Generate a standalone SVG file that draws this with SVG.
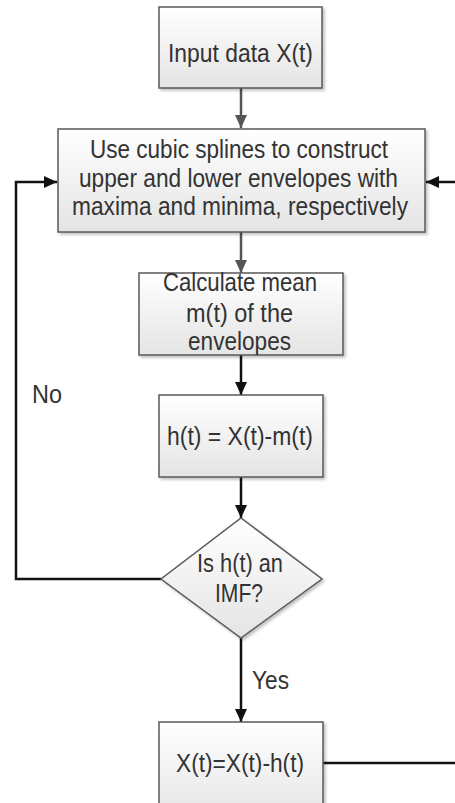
<svg xmlns="http://www.w3.org/2000/svg" width="455" height="803" viewBox="0 0 455 803">
<defs>
<linearGradient id="g" x1="0" y1="0" x2="0" y2="1">
<stop offset="0" stop-color="#ffffff"/>
<stop offset="1" stop-color="#e4e4e4"/>
</linearGradient>
<filter id="sh" x="-10%" y="-10%" width="130%" height="130%">
<feGaussianBlur in="SourceAlpha" stdDeviation="1.5"/>
<feOffset dx="1.5" dy="1.5"/>
<feComponentTransfer><feFuncA type="linear" slope="0.25"/></feComponentTransfer>
<feMerge><feMergeNode/><feMergeNode in="SourceGraphic"/></feMerge>
</filter>
<marker id="ak" markerWidth="13" markerHeight="12" refX="13" refY="6" orient="auto" markerUnits="userSpaceOnUse" viewBox="0 0 13 12">
<path d="M0,0 L13,6 L0,12 Z" fill="#111"/>
</marker>
<marker id="ag" markerWidth="13" markerHeight="12" refX="13" refY="6" orient="auto" markerUnits="userSpaceOnUse" viewBox="0 0 13 12">
<path d="M0,0 L13,6 L0,12 Z" fill="#555"/>
</marker>
</defs>
<style>
.box{fill:url(#g);stroke:#5a5a5a;stroke-width:1.5;filter:url(#sh)}
.t{font-family:"Liberation Sans",Arial,sans-serif;font-size:25px;fill:#333;text-anchor:middle}
.l{font-family:"Liberation Sans",Arial,sans-serif;font-size:25px;fill:#333}
.k{fill:none;stroke:#111;stroke-width:2.5}
.gr{fill:none;stroke:#555;stroke-width:2.5}
</style>
<rect width="455" height="803" fill="#fff"/>
<g id="connectors">
<line class="gr" x1="241" y1="88" x2="241" y2="128" marker-end="url(#ag)"/>
<line class="gr" x1="241" y1="232" x2="241" y2="273" marker-end="url(#ag)"/>
<line class="k" x1="241" y1="355" x2="241" y2="395" marker-end="url(#ak)"/>
<line class="k" x1="241" y1="477" x2="241" y2="518" marker-end="url(#ak)"/>
<line class="k" x1="241" y1="638" x2="241" y2="722" marker-end="url(#ak)"/>
<polyline class="k" points="161,579 16,579 16,182 57,182" marker-end="url(#ak)"/>
<line class="k" x1="323" y1="763" x2="455" y2="763"/>
<line class="k" x1="455" y1="182" x2="426" y2="182" marker-end="url(#ak)"/>
<text class="l" x="32" y="403" textLength="30" lengthAdjust="spacingAndGlyphs">No</text>
<text class="l" x="252" y="689" textLength="37" lengthAdjust="spacingAndGlyphs">Yes</text>
</g>
<g id="input">
<rect class="box" x="159" y="7" width="163" height="81"/>
<text class="t" x="240.5" y="62" textLength="145" lengthAdjust="spacingAndGlyphs">Input data X(t)</text>
</g>
<g id="envelopes">
<rect class="box" x="58" y="129" width="367" height="103"/>
<text class="t" x="239" y="158" textLength="298" lengthAdjust="spacingAndGlyphs">Use cubic splines to construct</text>
<text class="t" x="238.5" y="187" textLength="319" lengthAdjust="spacingAndGlyphs">upper and lower envelopes with</text>
<text class="t" x="240" y="215" textLength="336" lengthAdjust="spacingAndGlyphs">maxima and minima, respectively</text>
</g>
<g id="mean">
<rect class="box" x="139" y="273" width="204" height="82"/>
<text class="t" x="240" y="291" textLength="154" lengthAdjust="spacingAndGlyphs">Calculate mean</text>
<text class="t" x="239.5" y="322" textLength="107" lengthAdjust="spacingAndGlyphs">m(t) of the</text>
<text class="t" x="239.5" y="350" textLength="103" lengthAdjust="spacingAndGlyphs">envelopes</text>
</g>
<g id="h">
<rect class="box" x="159" y="395" width="164" height="82"/>
<text class="t" x="240" y="445" textLength="146" lengthAdjust="spacingAndGlyphs">h(t) = X(t)-m(t)</text>
</g>
<g id="imf">
<polygon class="box" points="241,518 322,579 241,638 161,579"/>
<text class="t" x="240" y="572" textLength="86" lengthAdjust="spacingAndGlyphs">Is h(t) an</text>
<text class="t" x="239" y="602" textLength="48" lengthAdjust="spacingAndGlyphs">IMF?</text>
</g>
<g id="update">
<rect class="box" x="159" y="722" width="164" height="100"/>
<text class="t" x="240" y="772" textLength="128" lengthAdjust="spacingAndGlyphs">X(t)=X(t)-h(t)</text>
</g>
</svg>
